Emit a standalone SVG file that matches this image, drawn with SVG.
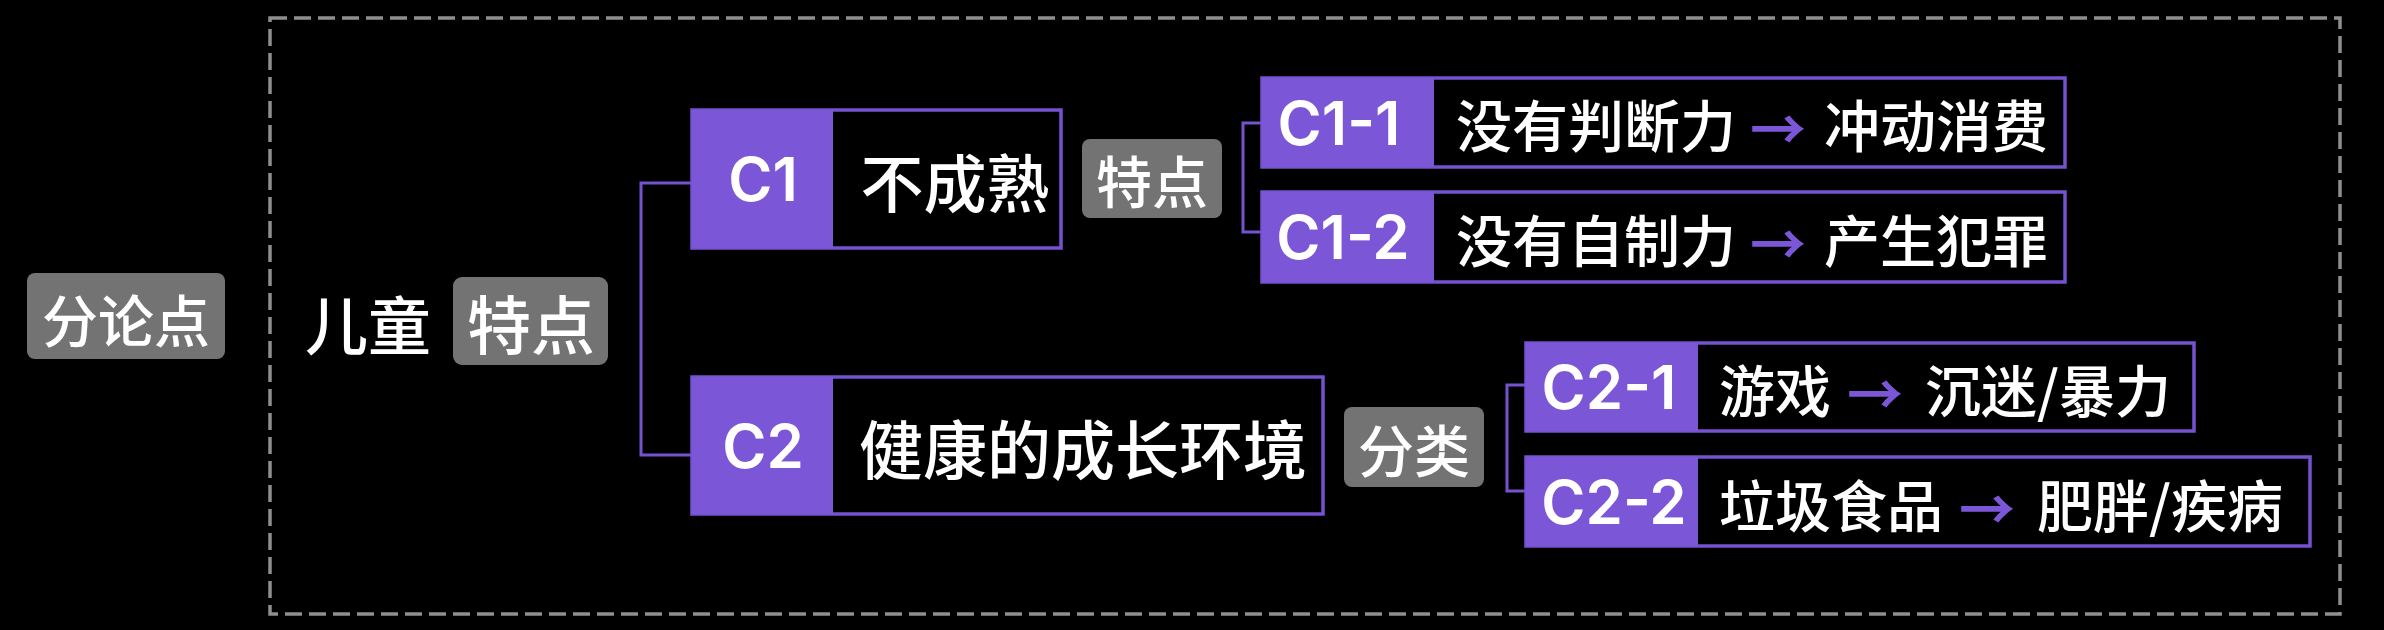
<svg xmlns="http://www.w3.org/2000/svg" width="2384" height="630" viewBox="0 0 2384 630">
<style>
.bg{fill:#000}
.frame{fill:none;stroke:#8f8f8f;stroke-width:3.5;stroke-dasharray:17 7}
.tag{fill:#737373}
.box{fill:#000;stroke:#7752d0;stroke-width:3.5}
.lab{fill:#7b56d6}
.conn{fill:none;stroke:#7752d0;stroke-width:3}
.cjk{font-family:"Noto Sans CJK SC","Noto Sans",sans-serif;font-weight:500;fill:#fff;dominant-baseline:central;text-anchor:middle}
.lat{font-family:Inter,"Liberation Sans",sans-serif;font-weight:600;fill:#fff;dominant-baseline:central;text-anchor:middle;font-size:60px}
.arr{font-family:"Noto Sans CJK SC","Noto Sans",sans-serif;font-weight:700;fill:#7b56d6;dominant-baseline:central;text-anchor:middle;font-size:56px}
</style>
<rect class="bg" x="0" y="0" width="2384" height="630"/>
<rect class="frame" x="270" y="18" width="2070" height="596"/>

<g id="connectors">
<path class="conn" d="M692 183 H641 V455 H692"/>
<path class="conn" d="M1262 123 H1243 V232 H1262"/>
<path class="conn" d="M1527 385 H1507 V491 H1527"/>
</g>

<g id="fenlundian">
<rect class="tag" x="27" y="273" width="198" height="86" rx="8"/>
<text class="cjk" x="126" y="317" font-size="56">分论点</text>
</g>

<g id="ertong">
<text class="cjk" x="368" y="321" font-size="63">儿童</text>
<rect class="tag" x="453" y="277" width="155" height="88" rx="9"/>
<text class="cjk" x="531" y="321" font-size="64">特点</text>
</g>

<g id="c1">
<rect class="box" x="692" y="110" width="369" height="138"/>
<rect class="lab" x="692" y="110" width="141" height="138"/>
<text class="lat" x="763" y="179" font-size="62">C1</text>
<text class="cjk" x="955" y="179" font-size="63">不成熟</text>
</g>

<g id="c1-tag">
<rect class="tag" x="1082" y="139" width="140" height="79" rx="8"/>
<text class="cjk" x="1152" y="178" font-size="56">特点</text>
</g>

<g id="c1-1">
<rect class="box" x="1262" y="78" width="803" height="89"/>
<rect class="lab" x="1262" y="78" width="172" height="89"/>
<text class="lat" x="1339" y="123">C1-1</text>
<text class="cjk" x="1596" y="122" font-size="56">没有判断力</text>
<text class="arr" x="1778" y="125">→</text>
<text class="cjk" x="1936" y="122" font-size="56">冲动消费</text>
</g>

<g id="c1-2">
<rect class="box" x="1262" y="192" width="803" height="90"/>
<rect class="lab" x="1262" y="192" width="172" height="90"/>
<text class="lat" x="1343" y="237">C1-2</text>
<text class="cjk" x="1596" y="237" font-size="56">没有自制力</text>
<text class="arr" x="1778" y="240">→</text>
<text class="cjk" x="1936" y="237" font-size="56">产生犯罪</text>
</g>

<g id="c2">
<rect class="box" x="692" y="377" width="631" height="137"/>
<rect class="lab" x="692" y="377" width="141" height="137"/>
<text class="lat" x="763" y="446" font-size="62">C2</text>
<text class="cjk" x="1083" y="446" font-size="64">健康的成长环境</text>
</g>

<g id="c2-tag">
<rect class="tag" x="1344" y="407" width="140" height="80" rx="8"/>
<text class="cjk" x="1414" y="447" font-size="56">分类</text>
</g>

<g id="c2-1">
<rect class="box" x="1526" y="343" width="668" height="88"/>
<rect class="lab" x="1526" y="343" width="172" height="88"/>
<text class="lat" x="1609" y="387">C2-1</text>
<text class="cjk" x="1775" y="387" font-size="56">游戏</text>
<text class="arr" x="1875" y="390">→</text>
<text class="cjk" x="2048" y="387" font-size="56">沉迷/暴力</text>
</g>

<g id="c2-2">
<rect class="box" x="1526" y="457" width="784" height="89"/>
<rect class="lab" x="1526" y="457" width="172" height="89"/>
<text class="lat" x="1614" y="502">C2-2</text>
<text class="cjk" x="1831" y="502" font-size="56">垃圾食品</text>
<text class="arr" x="1987" y="505">→</text>
<text class="cjk" x="2160" y="502" font-size="56">肥胖/疾病</text>
</g>
</svg>
